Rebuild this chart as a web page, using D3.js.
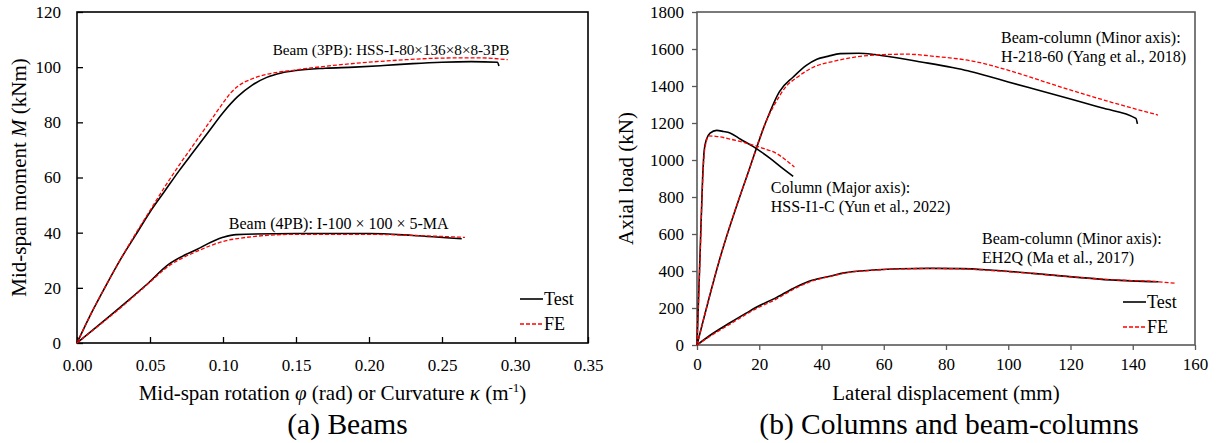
<!DOCTYPE html>
<html>
<head>
<meta charset="utf-8">
<script src="https://cdn.jsdelivr.net/npm/d3@7"></script>
<style>
  body { margin: 0; background: #fff; }
</style>
</head>
<body>
<svg id="fig" width="1217" height="443"></svg>
<script>
// ---- (a) Beams: [rotation/curvature, moment kNm]
var beam3pbTest = [[0,0],[0.01,11],[0.02,21],[0.03,30.5],[0.04,39],[0.05,47.5],[0.06,55],[0.07,62.5],
  [0.08,69.5],[0.09,76.5],[0.10,83.5],[0.11,89.3],[0.12,93.5],[0.13,96.3],[0.14,97.9],[0.15,98.8],
  [0.17,99.6],[0.19,100],[0.21,100.6],[0.23,101.3],[0.25,101.8],[0.27,102],[0.288,101.8],[0.289,100.4]];
var beam3pbFE = [[0,0],[0.01,11],[0.02,21],[0.03,30.5],[0.04,39.5],[0.05,48],[0.06,56.5],[0.07,64.5],
  [0.08,72],[0.09,79.5],[0.10,87],[0.105,90.5],[0.11,93],[0.12,95.8],[0.13,97.4],[0.15,99],
  [0.175,100.6],[0.20,101.8],[0.225,102.7],[0.25,103.3],[0.275,103.4],[0.295,102.7]];
var beam4pbTest = [[0,0],[0.0317,13.9],[0.0477,21.2],[0.0625,28.4],[0.082,33.9],[0.10,38.3],
  [0.109,39.3],[0.15,39.7],[0.20,39.7],[0.23,39.0],[0.2635,37.8]];
var beam4pbFE = [[0,0],[0.0317,13.6],[0.0477,21],[0.0625,27.8],[0.082,33.2],[0.10,36.8],
  [0.116,38.3],[0.15,39.4],[0.20,39.4],[0.23,39.0],[0.2657,38.3]];

// ---- (b) Columns and beam-columns: [lateral displacement mm, axial load kN]
var h218Test = [[0,0],[7.4,470],[17,960],[22,1200],[26.5,1370],[31,1450],[35,1510],[38.5,1545],
  [42,1560],[46,1575],[52,1577],[57,1570],[62,1558],[72,1530],[82,1500],[87,1482],[93,1455],
  [100,1422],[108,1385],[120,1330],[130,1282],[141,1225],[141.5,1195]];
var h218FE = [[0,0],[7.4,470],[17,960],[22,1200],[26.3,1340],[28.4,1393],[32.2,1447],[37.2,1500],
  [44.8,1537],[52.4,1560],[60,1570],[67.6,1572],[76.4,1560],[87.8,1537],[100.4,1483],[110.5,1429],
  [120.6,1375],[133.2,1312],[148.1,1243]];
var colTest = [[0,0],[1.0,500],[1.8,900],[2.3,1050],[3,1110],[4.2,1145],[6.3,1160],[8.5,1154],
  [10.6,1146],[14,1112],[18.1,1072],[20.5,1045],[23.5,1009],[27,962],[30.9,912]];
var colFE = [[0,0],[1.0,480],[1.8,880],[2.3,1030],[3,1100],[3.6,1130],[6,1128],[10.7,1113],
  [16,1090],[21.3,1063],[25.9,1032],[28.5,1000],[31.3,962]];
var eh2qTest = [[0,0],[4,50],[10.6,120],[15.8,172],[19.2,205],[25,252],[32,315],[37,350],
  [42.7,372],[47.3,390],[56.6,405],[65,412],[75,414],[85,413],[95,404],[108,387],[120.6,368],
  [133,352],[148.3,342]];
var eh2qFE = [[0,0],[4,45],[10.6,113],[19.2,198],[25,244],[32,310],[37,346],[42.7,370],
  [47.3,388],[56.6,404],[65,411],[75,414],[85,412],[95,402],[108,386],[120.6,368],[133,353],
  [148,342],[154,333]];

var beamXTicks = [0,0.05,0.10,0.15,0.20,0.25,0.30,0.35];
var beamYTicks = [0,20,40,60,80,100,120];
var colXTicks = [0,20,40,60,80,100,120,140,160];
var colYTicks = [0,200,400,600,800,1000,1200,1400,1600,1800];

var FONT = "'Liberation Serif', 'Times New Roman', Times, serif";
var svg = d3.select("#fig");
var RED = "#ff0000";

function drawPanel(p)
{
    var g = svg.append("g").style("font-family", FONT);
    var x = d3.scaleLinear().domain(p.xDomain).range([p.left, p.right]);
    var y = d3.scaleLinear().domain(p.yDomain).range([p.bottom, p.top]);
    var inner = p.tickDir === "in";
    var tk = inner ? -6 : 5;

    var xAxis = d3.axisBottom(x).tickValues(p.xTicks).tickFormat(p.xFmt)
        .tickSizeInner(tk).tickSizeOuter(0).tickPadding(inner ? 16 : 8);
    var yAxis = d3.axisLeft(y).tickValues(p.yTicks).tickFormat(d3.format("d"))
        .tickSizeInner(tk).tickSizeOuter(0).tickPadding(inner ? 16 : 8);

    var gx = g.append("g").attr("transform", `translate(0, ${p.bottom})`).call(xAxis);
    var gy = g.append("g").attr("transform", `translate(${p.left}, 0)`).call(yAxis);
    [gx, gy].forEach(function(a) {
        a.attr("font-family", null).attr("font-size", null);
        a.selectAll("text").style("font-family", FONT).style("font-size", "17px").attr("fill", "#000");
        a.selectAll("line").attr("stroke", p.frame).attr("stroke-width", 1.3);
        a.select(".domain").remove();
    });

    // frame box
    g.append("rect")
        .attr("x", p.left).attr("y", p.top)
        .attr("width", p.right - p.left).attr("height", p.bottom - p.top)
        .attr("fill", "none").attr("stroke", p.frame).attr("stroke-width", 1.6);

    var line = d3.line()
        .x(function(d) { return x(d[0]); })
        .y(function(d) { return y(d[1]); })
        .curve(d3.curveMonotoneX);

    p.series.forEach(function(s) {
        g.append("path")
            .attr("d", line(s.data))
            .attr("fill", "none")
            .attr("stroke", s.fe ? RED : "#000")
            .attr("stroke-width", s.fe ? 1.3 : 1.6)
            .attr("stroke-dasharray", s.fe ? "4,2" : null);
    });

    // annotations
    p.notes.forEach(function(n) {
        var t = g.append("text").attr("x", x(n.x)).attr("y", y(n.y))
            .style("font-family", FONT).style("font-size", (n.size || 16) + "px");
        n.lines.forEach(function(l, i) {
            t.append("tspan").attr("x", x(n.x)).attr("dy", i === 0 ? 0 : 19).text(l);
        });
    });

    // legend
    var lg = g.append("g").attr("transform", `translate(${p.legX}, ${p.legY})`);
    [["Test", false], ["FE", true]].forEach(function(e, i) {
        lg.append("line").attr("x1", 0).attr("x2", 23).attr("y1", i * 25).attr("y2", i * 25)
            .attr("stroke", e[1] ? RED : "#000").attr("stroke-width", e[1] ? 1.3 : 1.6)
            .attr("stroke-dasharray", e[1] ? "4,2" : null);
        lg.append("text").attr("x", 24).attr("y", i * 25 + 6)
            .style("font-family", FONT).style("font-size", "18px").text(e[0]);
    });

    // axis titles
    var cx = (p.left + p.right) / 2;
    var xt = g.append("text").attr("x", cx).attr("y", 400).attr("text-anchor", "middle")
        .style("font-family", FONT).style("font-size", "21px");
    p.xTitle(xt);
    var yt = g.append("text").attr("transform", `translate(${p.yTitleX}, ${(p.top + p.bottom) / 2}) rotate(-90)`)
        .attr("text-anchor", "middle").style("font-family", FONT).style("font-size", "21px");
    p.yTitle(yt);

    g.append("text").attr("x", cx + p.capShift).attr("y", 434).attr("text-anchor", "middle")
        .style("font-family", FONT).style("font-size", "29.5px").text(p.caption);
}

drawPanel({
    xDomain: [0, 0.35], yDomain: [0, 120],
    left: 77, right: 588, top: 12, bottom: 343,
    xTicks: beamXTicks, yTicks: beamYTicks, xFmt: d3.format(".2f"),
    tickDir: "in", frame: "#000",
    series: [
        {data: beam3pbTest}, {data: beam3pbFE, fe: true},
        {data: beam4pbTest}, {data: beam4pbFE, fe: true}
    ],
    notes: [
        {x: 0.134, y: 104.3, size: 15.2, lines: ["Beam (3PB): HSS-I-80×136×8×8-3PB"]},
        {x: 0.104, y: 41.3, lines: ["Beam (4PB): I-100 × 100 × 5-MA"]}
    ],
    legX: 520, legY: 299,
    xTitle: function(t) {
        t.append("tspan").text("Mid-span rotation ");
        t.append("tspan").style("font-style", "italic").text("φ");
        t.append("tspan").text(" (rad) or Curvature ");
        t.append("tspan").style("font-style", "italic").text("κ");
        t.append("tspan").text(" (m");
        t.append("tspan").attr("dy", -8).style("font-size", "13px").text("-1");
        t.append("tspan").attr("dy", 8).text(")");
    },
    yTitleX: 26,
    yTitle: function(t) {
        t.append("tspan").text("Mid-span moment ");
        t.append("tspan").style("font-style", "italic").text("M");
        t.append("tspan").text(" (kNm)");
    },
    caption: "(a) Beams", capShift: 15
});

drawPanel({
    xDomain: [0, 160], yDomain: [0, 1800],
    left: 697, right: 1195, top: 12, bottom: 345,
    xTicks: colXTicks, yTicks: colYTicks, xFmt: d3.format("d"),
    tickDir: "out", frame: "#595959",
    series: [
        {data: h218Test}, {data: h218FE, fe: true},
        {data: colTest}, {data: colFE, fe: true},
        {data: eh2qTest}, {data: eh2qFE, fe: true}
    ],
    notes: [
        {x: 97.7, y: 1630, lines: ["Beam-column (Minor axis):", "H-218-60 (Yang et al., 2018)"]},
        {x: 23.7, y: 823, lines: ["Column (Major axis):", "HSS-I1-C (Yun et al., 2022)"]},
        {x: 91.6, y: 546, lines: ["Beam-column (Minor axis):", "EH2Q (Ma et al., 2017)"]}
    ],
    legX: 1123, legY: 302,
    xTitle: function(t) { t.text("Lateral displacement (mm)"); },
    yTitleX: 633,
    yTitle: function(t) { t.text("Axial load (kN)"); },
    caption: "(b) Columns and beam-columns", capShift: 3
});
</script>
</body>
</html>
